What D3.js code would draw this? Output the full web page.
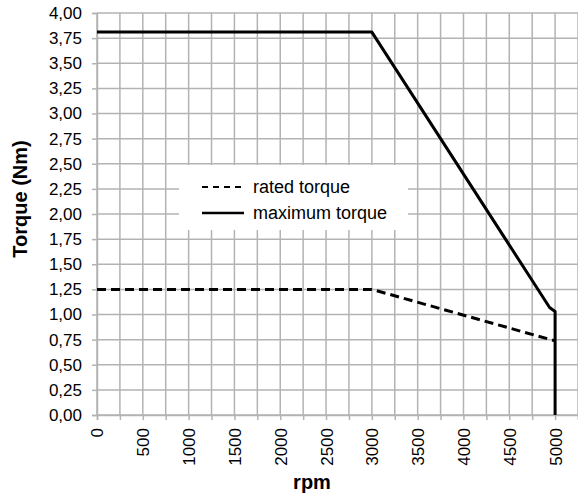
<!DOCTYPE html>
<html><head><meta charset="utf-8">
<script src="https://cdn.jsdelivr.net/npm/d3@7"></script>
<style>html,body{margin:0;padding:0;background:#fff;}svg{display:block;}</style>
</head><body>
<svg id="c" width="578" height="498"></svg>
<script>
const seriesNames = ["rated torque", "maximum torque"];
const ratedRpm = [0, 3000, 4990];
const ratedTorque = [1.25, 1.25, 0.74];
const maxRpm = [0, 3000, 4940, 5000, 5000];
const maxTorque = [3.81, 3.81, 1.07, 1.03, 0.0];
const xTicks = [0,500,1000,1500,2000,2500,3000,3500,4000,4500,5000];
const yTicks = [0,0.25,0.5,0.75,1,1.25,1.5,1.75,2,2.25,2.5,2.75,3,3.25,3.5,3.75,4];
const xGrid = d3.range(0, 5251, 250);

const svg = d3.select("#c");
const x = d3.scaleLinear().domain([0, 5250]).range([97, 578]);
const y = d3.scaleLinear().domain([0, 4]).range([415, 13]);
const gridColor = "#b3b3b3";
const font = "Arial, 'Liberation Sans', sans-serif";

// grid
svg.append("g").selectAll("line").data(yTicks).join("line")
  .attr("x1", x(0)).attr("x2", 578).attr("y1", d => y(d)).attr("y2", d => y(d))
  .attr("stroke", gridColor).attr("stroke-width", 1.5);
svg.append("g").selectAll("line").data(xGrid).join("line")
  .attr("x1", d => x(d)).attr("x2", d => x(d)).attr("y1", y(4)).attr("y2", y(0))
  .attr("stroke", gridColor).attr("stroke-width", 1.5);

// axes
const yAxis = svg.append("g").attr("transform", `translate(${x(0)},0)`)
  .call(d3.axisLeft(y).tickValues(yTicks).tickSize(5).tickPadding(10)
    .tickFormat(d => d3.format(".2f")(d).replace(".", ",")));
yAxis.select(".domain").attr("stroke", gridColor).attr("stroke-width", 1.5);
yAxis.selectAll(".tick line").attr("stroke", gridColor).attr("stroke-width", 1.5);
yAxis.selectAll("text").attr("font-family", font).attr("font-size", 17).attr("fill", "#000");

const xAxis = svg.append("g").attr("transform", `translate(0,${y(0)})`)
  .call(d3.axisBottom(x).tickValues(xGrid).tickSize(5).tickFormat(d => xTicks.includes(d) ? d : ""));
xAxis.select(".domain").attr("stroke", gridColor).attr("stroke-width", 1.5);
xAxis.selectAll(".tick line").attr("stroke", gridColor).attr("stroke-width", 1.5);
xAxis.selectAll("text").attr("font-family", font).attr("font-size", 17).attr("fill", "#000")
  .attr("transform", "rotate(-90)").attr("text-anchor", "end")
  .attr("x", -13).attr("y", 0).attr("dy", "0.35em");

// legend background
svg.append("rect").attr("x", 179).attr("y", 165).attr("width", 229).attr("height", 65).attr("fill", "#fff");

// lines
const line = d3.line().x(d => x(d[0])).y(d => y(d[1]));
svg.append("path").datum(ratedRpm.map((r, i) => [r, ratedTorque[i]]))
  .attr("d", line).attr("fill", "none").attr("stroke", "#000").attr("stroke-width", 3)
  .attr("stroke-dasharray", "9,5");
svg.append("path").datum(maxRpm.map((r, i) => [r, maxTorque[i]]))
  .attr("d", line).attr("fill", "none").attr("stroke", "#000").attr("stroke-width", 3)
  .attr("stroke-linejoin", "round");

// legend
const lg = svg.append("g");
seriesNames.forEach((n, i) => {
  const ly = 187 + i * 26;
  lg.append("line").attr("x1", 202).attr("x2", 244).attr("y1", ly).attr("y2", ly)
    .attr("stroke", "#000").attr("stroke-width", i === 0 ? 2 : 2.5)
    .attr("stroke-dasharray", i === 0 ? "6,5" : null);
  lg.append("text").attr("x", 253).attr("y", ly).attr("dy", "0.35em")
    .attr("font-family", font).attr("font-size", 18).text(n);
});

// titles
svg.append("text").attr("x", 312).attr("y", 489).attr("text-anchor", "middle")
  .attr("font-family", font).attr("font-size", 20).attr("font-weight", "bold").text("rpm");
svg.append("text").attr("transform", "translate(27,199) rotate(-90)").attr("text-anchor", "middle")
  .attr("font-family", font).attr("font-size", 20).attr("font-weight", "bold").text("Torque (Nm)");
</script>
</body></html>
